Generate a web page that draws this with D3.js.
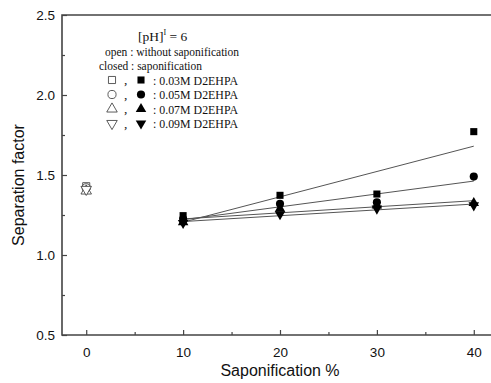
<!DOCTYPE html>
<html>
<head>
<meta charset="utf-8">
<script src="https://cdn.jsdelivr.net/npm/d3@7"></script>
<style>
  body { margin: 0; background: #fff; }
  svg { display: block; }
</style>
</head>
<body>
<script>
// data
let saponification = [10, 20, 30, 40];
let conc = ["0.03M D2EHPA", "0.05M D2EHPA", "0.07M D2EHPA", "0.09M D2EHPA"];
let shapes = ["square", "circle", "up", "down"];
let openValues = [1.43, 1.42, 1.40, 1.41];        // at 0 %, without saponification
let closedValues = [
  [1.246, 1.373, 1.381, 1.771],
  [1.225, 1.320, 1.330, 1.490],
  [1.205, 1.290, 1.310, 1.325],
  [1.200, 1.255, 1.290, 1.310]
];
let xTicks = [0, 10, 20, 30, 40];
let yTicks = [0.5, 1.0, 1.5, 2.0, 2.5];

let W = 491, H = 383;
let svg = d3.select("body").append("svg")
    .attr("width", W).attr("height", H);

let x = d3.scaleLinear().domain([-2.5, 42.5]).range([62, 498]);
let y = d3.scaleLinear().domain([0.5, 2.5]).range([335, 15]);

let sym = {
  square: d3.symbol().type(d3.symbolSquare).size(50),
  circle: d3.symbol().type(d3.symbolCircle).size(52),
  up: d3.symbol().type(d3.symbolTriangle).size(48),
  down: d3.symbol().type(d3.symbolTriangle).size(48)
};
function marker(g, shape, cx, cy, filled) {
  g.append("path")
    .attr("d", sym[shape]())
    .attr("transform", "translate(" + cx + "," + cy + ")" + (shape == "down" ? " rotate(180)" : ""))
    .attr("fill", filled ? "#000" : "#fff")
    .attr("stroke", filled ? "none" : "#333")
    .attr("stroke-width", 0.8);
}

// least squares fit lines over the saponified points
function fit(vals) {
  let mx = d3.mean(saponification), my = d3.mean(vals);
  let num = d3.sum(saponification, (s, i) => (s - mx) * (vals[i] - my));
  let den = d3.sum(saponification, s => (s - mx) * (s - mx));
  let b = num / den;
  return s => my + b * (s - mx);
}
let line = d3.line().x(d => x(d[0])).y(d => y(d[1]));
closedValues.forEach(vals => {
  let f = fit(vals);
  svg.append("path")
    .attr("d", line([[10, f(10)], [40, f(40)]]))
    .attr("fill", "none").attr("stroke", "#555").attr("stroke-width", 1);
});

// markers
let pts = svg.append("g");
shapes.forEach((s, i) => marker(pts, s, x(0), y(openValues[i]), false));
closedValues.forEach((vals, i) => {
  vals.forEach((v, j) => marker(pts, shapes[i], x(saponification[j]), y(v), true));
});

// axes
let axisColor = "#444";
let xAxis = svg.append("g").attr("transform", "translate(0,335)")
  .call(d3.axisBottom(x).tickValues(xTicks).tickSize(0).tickPadding(12).tickFormat(d3.format("d")));
let xMinor = svg.append("g").attr("transform", "translate(0,335)")
  .call(d3.axisTop(x).tickValues([0, 5, 10, 15, 20, 25, 30, 35, 40]).tickSize(5).tickFormat(""));
xMinor.selectAll(".tick line").attr("y2", (d) => d % 10 == 0 ? -5 : -3);
let yAxis = svg.append("g").attr("transform", "translate(62,0)")
  .call(d3.axisLeft(y).tickValues(yTicks).tickSize(0).tickPadding(7).tickFormat(d3.format(".1f")));
let yMinor = svg.append("g").attr("transform", "translate(62,0)")
  .call(d3.axisRight(y).tickValues(d3.range(0.5, 2.51, 0.25)).tickFormat(""));
yMinor.selectAll(".tick line").attr("x2", (d) => Math.abs(d * 2 - Math.round(d * 2)) < 1e-6 ? 5 : 3);

[xAxis, xMinor, yAxis, yMinor].forEach(g => {
  g.select(".domain").remove();
  g.selectAll("line").attr("stroke", axisColor).attr("stroke-width", 1.2);
  g.selectAll("text").attr("font-family", "Liberation Sans, Arial, sans-serif")
    .attr("font-size", 13.5).attr("fill", "#111");
});

// frame
svg.append("path")
  .attr("d", "M" + (W + 5) + ",15H62V335H" + (W + 5))
  .attr("fill", "none").attr("stroke", axisColor).attr("stroke-width", 1.6);

// axis titles
svg.append("text").attr("x", 280).attr("y", 376)
  .attr("text-anchor", "middle")
  .attr("font-family", "Liberation Sans, Arial, sans-serif").attr("font-size", 16)
  .attr("fill", "#111").text("Saponification %");
svg.append("text").attr("transform", "translate(24,185) rotate(-90)")
  .attr("text-anchor", "middle")
  .attr("font-family", "Liberation Sans, Arial, sans-serif").attr("font-size", 16)
  .attr("fill", "#111").text("Separation factor");

// legend
let leg = svg.append("g")
  .attr("font-family", "Liberation Serif, Times New Roman, serif")
  .attr("font-size", 13.5).attr("fill", "#111");
let t1 = leg.append("text").attr("x", 138).attr("y", 41);
t1.append("tspan").text("[pH]");
t1.append("tspan").attr("font-size", 8).attr("dy", -6).text("I");
t1.append("tspan").attr("dy", 6).text(" = 6");
leg.append("text").attr("x", 105).attr("y", 56).attr("textLength", 134).attr("lengthAdjust", "spacingAndGlyphs").text("open : without saponification");
leg.append("text").attr("x", 99).attr("y", 70).attr("textLength", 103).attr("lengthAdjust", "spacingAndGlyphs").text("closed : saponification");
conc.forEach((c, i) => {
  let cy = 80 + i * 14.5;
  marker(leg, shapes[i], 112, cy, false);
  leg.append("text").attr("x", 124).attr("y", cy + 4).text(",");
  marker(leg, shapes[i], 141, cy, true);
  leg.append("text").attr("x", 153).attr("y", cy + 4.5).attr("textLength", 85).attr("lengthAdjust", "spacingAndGlyphs").text(": " + c);
});
</script>
</body>
</html>
